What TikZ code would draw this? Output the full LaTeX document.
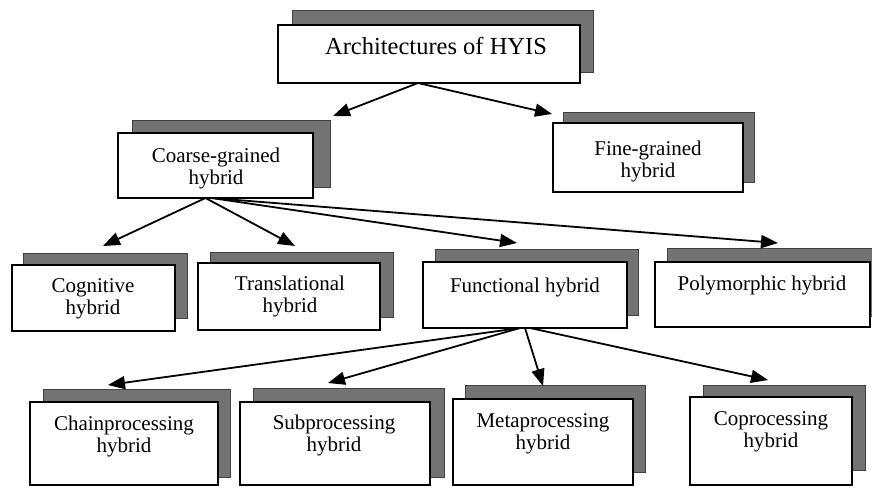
\documentclass[tikz,border=0pt]{standalone}
\usepackage{fontspec}
\setmainfont{Liberation Serif}
\usetikzlibrary{arrows.meta,fit}
\tikzset{
  frontbox/.style={draw=black, fill=white, line width=1.3pt, inner sep=0pt, outer sep=0pt},
  shadebox/.style={fill=black!55, draw=black!75, line width=0.8pt, inner sep=0pt, outer sep=0pt},
  lbl/.style={font=\fontsize{21}{22}\selectfont, align=center, inner sep=0pt, anchor=north},
  arr/.style={line width=1.8pt, -{Triangle[length=17pt,width=13pt]}},
}
\newcommand\dbox[9]{%
  \node[shadebox, fit={(#6,#7) (#8,#9)}] (#1-s) {};
  \node[frontbox, fit={(#2,#3) (#4,#5)}] (#1) {};}
\begin{document}
\begin{tikzpicture}[x=1pt, y=-1pt]
\useasboundingbox (0,0) rectangle (872,487);
\clip (0,0) rectangle (872,487);
% boxes: name, front (x1,y1,x2,y2), shadow (x1,y1,x2,y2)
\dbox{title}{278}{25}{580}{83}{292}{10}{593}{72}
\dbox{coarse}{118}{133}{313}{198}{132}{120}{330}{187}
\dbox{fine}{553}{123}{743}{192}{563}{112}{754}{182}
\dbox{cog}{12}{265}{175}{331}{23}{253}{187}{318}
\dbox{trans}{198}{263}{380}{330}{210}{252}{393}{317}
\dbox{func}{423}{262}{627}{328}{435}{249}{638}{315}
\dbox{poly}{655}{262}{870}{327}{667}{248}{884}{316}
\dbox{chain}{30}{402}{218}{485}{43}{389}{230}{477}
\dbox{sub}{240}{402}{430}{485}{253}{388}{444}{477}
\dbox{meta}{453}{399}{633}{485}{465}{385}{645}{472}
\dbox{co}{690}{397}{852}{485}{703}{385}{865}{470}
% texts
\node[font=\fontsize{24.5}{26}\selectfont, inner sep=0pt, anchor=base] (title-t) at (436,55) {Architectures of HYIS};
\node[lbl] (coarse-t) at (216,146.6) {\strut Coarse-grained\\hybrid};
\node[lbl] (fine-t) at (648,139.6) {\strut Fine-grained\\hybrid};
\node[lbl] (cog-t) at (93,276.6) {\strut Cognitive\\hybrid};
\node[lbl] (trans-t) at (290,274.6) {\strut Translational\\hybrid};
\node[lbl] (func-t) at (525,276.6) {\strut Functional hybrid};
\node[lbl] (poly-t) at (762,274.6) {\strut Polymorphic hybrid};
\node[lbl] (chain-t) at (124,414.6) {\strut Chainprocessing\\hybrid};
\node[lbl] (sub-t) at (334,413.6) {\strut Subprocessing\\hybrid};
\node[lbl] (meta-t) at (543,411.6) {\strut Metaprocessing\\hybrid};
\node[lbl] (co-t) at (771,409.6) {\strut Coprocessing\\hybrid};
% connectors
\draw[arr] ([xshift=-11pt]title.south) -- ([xshift=3pt,yshift=4pt]coarse-s.north east);
\draw[arr] ([xshift=-11pt]title.south) -- ([xshift=-11pt,yshift=-2pt]fine-s.north west);
\draw[arr] ([xshift=-10pt]coarse.south) -- ([xshift=-2pt,yshift=7pt]cog-s.north);
\draw[arr] ([xshift=-10pt]coarse.south) -- ([xshift=-6.5pt,yshift=6pt]trans-s.north);
\draw[arr] ([xshift=-4pt]coarse.south) -- ([xshift=-19.5pt,yshift=6pt]func-s.north);
\draw[arr] ([xshift=-4pt]coarse.south) -- ([xshift=15.5pt,yshift=19pt]poly.north);
\draw[arr] ([xshift=-5pt]func.south) -- ([xshift=-28.5pt,yshift=4pt]chain-s.north);
\draw[arr] ([xshift=-5pt]func.south) -- ([xshift=-20.5pt,yshift=5pt]sub-s.north);
\draw[arr] (func.south) -- ([xshift=-12pt,yshift=-1pt]meta-s.north);
\draw[arr] ([xshift=5pt]func.south) -- ([xshift=-16pt,yshift=5pt]co-s.north);
\end{tikzpicture}
\end{document}
